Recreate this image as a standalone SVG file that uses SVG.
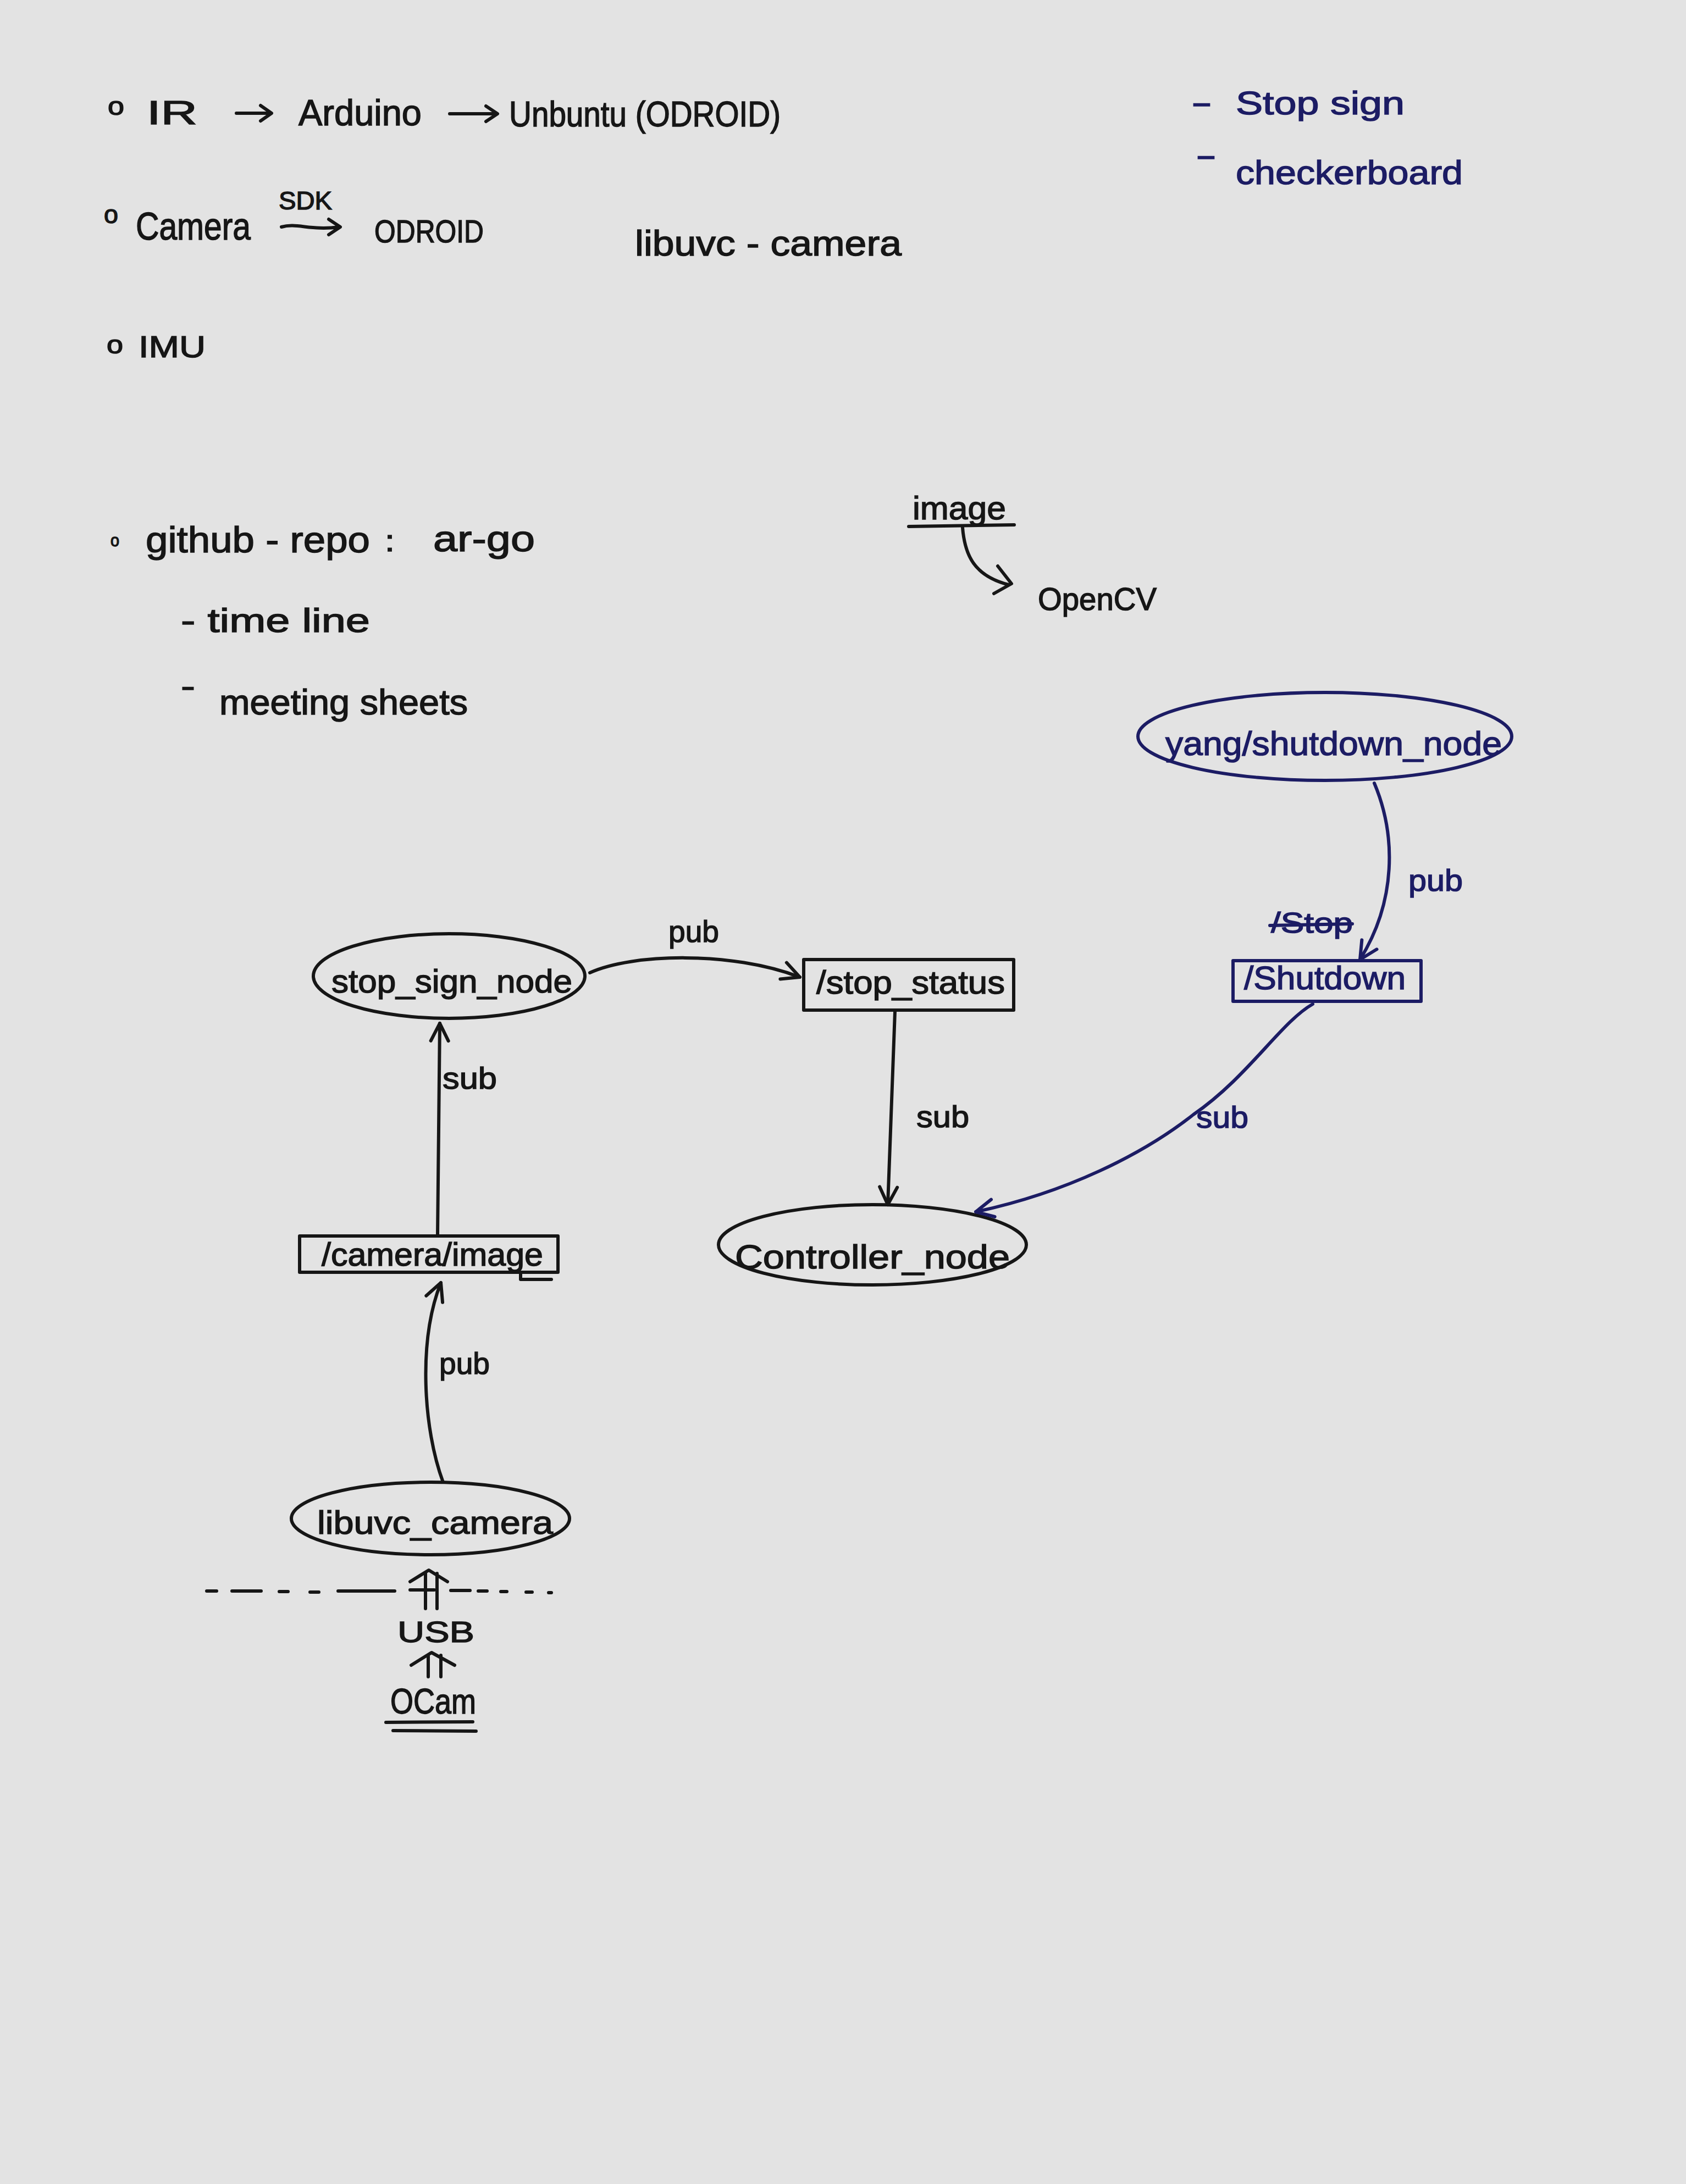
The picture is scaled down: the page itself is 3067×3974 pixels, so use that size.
<svg xmlns="http://www.w3.org/2000/svg" width="3067" height="3974" viewBox="0 0 3067 3974">
<defs>
<style>
.k{fill:#161616;stroke:#161616;stroke-width:1.5;font-family:"Liberation Sans","DejaVu Sans",sans-serif}
.b{fill:#1c1c64;stroke:#1c1c64;stroke-width:1.5;font-family:"Liberation Sans","DejaVu Sans",sans-serif}
.lk{fill:none;stroke:#161616;stroke-width:6;stroke-linecap:round;stroke-linejoin:round}
.lb{fill:none;stroke:#1c1c64;stroke-width:6;stroke-linecap:round;stroke-linejoin:round}
</style>
<marker id="ak" viewBox="0 0 10 10" refX="9" refY="5" markerWidth="40" markerHeight="40" markerUnits="userSpaceOnUse" orient="auto">
<path d="M1,1 L9,5 L1,9" fill="none" stroke="#161616" stroke-width="1.5" stroke-linecap="round" stroke-linejoin="round"/>
</marker>
<marker id="ab" viewBox="0 0 10 10" refX="9" refY="5" markerWidth="40" markerHeight="40" markerUnits="userSpaceOnUse" orient="auto">
<path d="M1,1 L9,5 L1,9" fill="none" stroke="#1c1c64" stroke-width="1.5" stroke-linecap="round" stroke-linejoin="round"/>
</marker>
</defs>
<rect x="0" y="0" width="3067" height="3974" fill="#e3e3e3"/>

<g id="notes">
<text class="k" x="196" y="209" font-size="46" textLength="30" lengthAdjust="spacingAndGlyphs">o</text>
<text class="k" x="267" y="226" font-size="62" textLength="92" lengthAdjust="spacingAndGlyphs">IR</text>
<path class="lk" d="M430,206 L492,206 M474,192 L494,206 L474,220"/>
<text class="k" x="543" y="228" font-size="66" textLength="224" lengthAdjust="spacingAndGlyphs">Arduino</text>
<path class="lk" d="M818,207 L903,207 M884,193 L905,207 L884,221"/>
<text class="k" x="926" y="230" font-size="64" textLength="494" lengthAdjust="spacingAndGlyphs">Unbuntu (ODROID)</text>

<text class="k" x="189" y="406" font-size="46" textLength="26" lengthAdjust="spacingAndGlyphs">o</text>
<text class="k" x="247" y="436" font-size="70" textLength="209" lengthAdjust="spacingAndGlyphs">Camera</text>
<text class="k" x="507" y="381" font-size="46" textLength="97" lengthAdjust="spacingAndGlyphs">SDK</text>
<path class="lk" d="M512,413 C540,405 565,420 617,413 M598,399 L619,413 L598,427"/>
<text class="k" x="681" y="441" font-size="58" textLength="199" lengthAdjust="spacingAndGlyphs">ODROID</text>
<text class="k" x="1155" y="465" font-size="64" textLength="485" lengthAdjust="spacingAndGlyphs">libuvc - camera</text>

<text class="k" x="194" y="643" font-size="46" textLength="30" lengthAdjust="spacingAndGlyphs">o</text>
<text class="k" x="252" y="650" font-size="56" textLength="122" lengthAdjust="spacingAndGlyphs">IMU</text>

<text class="b" x="2167" y="206" font-size="58" textLength="38" lengthAdjust="spacingAndGlyphs">-</text>
<text class="b" x="2248" y="208" font-size="60" textLength="307" lengthAdjust="spacingAndGlyphs">Stop sign</text>
<text class="b" x="2175" y="302" font-size="58" textLength="38" lengthAdjust="spacingAndGlyphs">-</text>
<text class="b" x="2248" y="335" font-size="62" textLength="413" lengthAdjust="spacingAndGlyphs">checkerboard</text>

<text class="k" x="201" y="994" font-size="32" textLength="16" lengthAdjust="spacingAndGlyphs">o</text>
<text class="k" x="265" y="1005" font-size="66" textLength="408" lengthAdjust="spacingAndGlyphs">github - repo</text>
<text class="k" x="700" y="1003" font-size="56" textLength="18" lengthAdjust="spacingAndGlyphs">:</text>
<text class="k" x="788" y="1003" font-size="66" textLength="185" lengthAdjust="spacingAndGlyphs">ar-go</text>
<text class="k" x="329" y="1150" font-size="62" textLength="344" lengthAdjust="spacingAndGlyphs">- time line</text>
<text class="k" x="329" y="1268" font-size="58" textLength="26" lengthAdjust="spacingAndGlyphs">-</text>
<text class="k" x="399" y="1300" font-size="64" textLength="452" lengthAdjust="spacingAndGlyphs">meeting sheets</text>

<text class="k" x="1660" y="945" font-size="60" textLength="170" lengthAdjust="spacingAndGlyphs">image</text>
<path class="lk" d="M1653,958 L1845,955" stroke-width="8"/>
<path class="lk" d="M1751,960 C1755,1010 1772,1048 1835,1064 M1815,1030 L1840,1062 L1808,1080"/>
<text class="k" x="1888" y="1110" font-size="58" textLength="216" lengthAdjust="spacingAndGlyphs">OpenCV</text>
</g>

<g id="yang_shutdown_node">
<ellipse class="lb" cx="2410" cy="1340" rx="340" ry="80"/>
<text class="b" x="2120" y="1374" font-size="62" textLength="612" lengthAdjust="spacingAndGlyphs">yang/shutdown_node</text>
</g>

<g id="shutdown_topic">
<rect class="lb" x="2243" y="1748" width="342" height="74"/>
<text class="b" x="2263" y="1800" font-size="60" textLength="294" lengthAdjust="spacingAndGlyphs">/Shutdown</text>
<text class="b" x="2312" y="1697" font-size="52" textLength="149" lengthAdjust="spacingAndGlyphs">/Stop</text>
<path class="lb" d="M2310,1684 L2460,1681"/>
</g>

<g id="stop_sign_node">
<ellipse class="lk" cx="817" cy="1776" rx="247" ry="77"/>
<text class="k" x="603" y="1806" font-size="60" textLength="438" lengthAdjust="spacingAndGlyphs">stop_sign_node</text>
</g>

<g id="stop_status">
<rect class="lk" x="1462" y="1746" width="382" height="92"/>
<text class="k" x="1485" y="1808" font-size="60" textLength="343" lengthAdjust="spacingAndGlyphs">/stop_status</text>
</g>

<g id="controller_node">
<ellipse class="lk" cx="1587" cy="2265" rx="280" ry="73"/>
<text class="k" x="1337" y="2308" font-size="62" textLength="500" lengthAdjust="spacingAndGlyphs">Controller_node</text>
</g>

<g id="camera_image">
<rect class="lk" x="545" y="2249" width="470" height="66"/>
<path class="lk" d="M947,2315 L947,2328 L1003,2328"/>
<text class="k" x="585" y="2303" font-size="60" textLength="403" lengthAdjust="spacingAndGlyphs">/camera/image</text>
</g>

<g id="libuvc_camera">
<ellipse class="lk" cx="783" cy="2763" rx="253" ry="66"/>
<text class="k" x="577" y="2791" font-size="60" textLength="429" lengthAdjust="spacingAndGlyphs">libuvc_camera</text>
</g>

<g id="hardware">
<path class="lk" d="M376,2895 L394,2895 M422,2895 L475,2895 M508,2896 L524,2896 M564,2897 L580,2897 M615,2895 L718,2895 M746,2893 L790,2893 M820,2894 L855,2894 M870,2895 L886,2895 M911,2896 L922,2896 M957,2897 L968,2897 M998,2898 L1003,2898"/>
<path class="lk" d="M774,2863 L774,2927 M795,2863 L795,2927 M746,2878 L780,2857 L814,2878"/>
<text class="k" x="723" y="2988" font-size="54" textLength="140" lengthAdjust="spacingAndGlyphs">USB</text>
<path class="lk" d="M779,3012 L779,3051 M802,3012 L802,3051 M748,3030 L785,3007 L827,3030"/>
<text class="k" x="710" y="3118" font-size="64" textLength="156" lengthAdjust="spacingAndGlyphs">OCam</text>
<path class="lk" d="M702,3134 L860,3133 M715,3149 L866,3150"/>
</g>

<g id="connectors">
<path class="lk" d="M1073,1770 C1150,1735 1330,1730 1455,1778" marker-end="url(#ak)"/>
<text class="k" x="1216" y="1714" font-size="56" textLength="92" lengthAdjust="spacingAndGlyphs">pub</text>
<path class="lk" d="M1628,1841 L1615,2192" marker-end="url(#ak)"/>
<text class="k" x="1667" y="2051" font-size="56" textLength="96" lengthAdjust="spacingAndGlyphs">sub</text>
<path class="lk" d="M796,2247 L800,1862" marker-end="url(#ak)"/>
<text class="k" x="805" y="1981" font-size="56" textLength="99" lengthAdjust="spacingAndGlyphs">sub</text>
<path class="lk" d="M806,2697 C770,2600 760,2440 802,2334" marker-end="url(#ak)"/>
<text class="k" x="799" y="2500" font-size="56" textLength="92" lengthAdjust="spacingAndGlyphs">pub</text>
<path class="lb" d="M2500,1425 C2540,1520 2540,1640 2474,1746" marker-end="url(#ab)"/>
<text class="b" x="2562" y="1621" font-size="56" textLength="99" lengthAdjust="spacingAndGlyphs">pub</text>
<path class="lb" d="M2388,1827 C2330,1860 2270,1960 2171,2028 C2080,2100 1940,2170 1775,2205" marker-end="url(#ab)"/>
<text class="b" x="2176" y="2052" font-size="56" textLength="95" lengthAdjust="spacingAndGlyphs">sub</text>
</g>
</svg>
